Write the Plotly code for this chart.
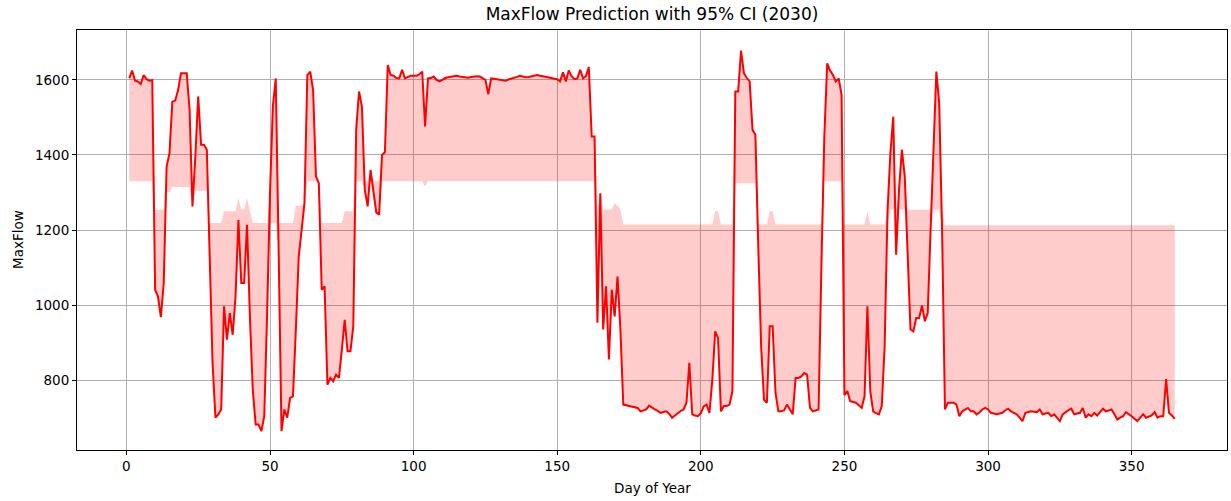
import numpy as np
import plotly.graph_objects as go

days = list(range(1, 366))

pred = [
    1605, 1625, 1598, 1596, 1589, 1613, 1602, 1598, 1600, 1041,   # 1-10
    1023, 968, 1059, 1369, 1405, 1542, 1545, 1573, 1618, 1618,    # 11-20
    1618, 1520, 1263, 1396, 1556, 1427, 1427, 1414, 1112, 846,    # 21-30
    700, 709, 722, 997, 908, 979, 921, 1023, 1227, 1059,          # 31-40
    1059, 1214, 970, 775, 682, 682, 664, 704, 979, 1300,          # 41-50
    1530, 1604, 1150, 664, 722, 700, 753, 757, 935, 1130,         # 51-60
    1200, 1272, 1613, 1622, 1573, 1343, 1325, 1041, 1050, 788,    # 61-70
    806, 797, 815, 806, 880, 961, 877, 877, 944, 1467,            # 71-80
    1569, 1529, 1307, 1263, 1360, 1298, 1247, 1241, 1400, 1407,   # 81-90
    1640, 1613, 1611, 1605, 1604, 1627, 1604, 1608, 1611, 1611,   # 91-100
    1611, 1615, 1622, 1476, 1604, 1605, 1609, 1600, 1596, 1600,   # 101-110
    1605, 1607, 1609, 1610, 1611, 1609, 1608, 1607, 1606, 1608,   # 111-120
    1609, 1610, 1609, 1605, 1600, 1562, 1604, 1603, 1602, 1600,   # 121-130
    1598, 1598, 1601, 1603, 1604, 1608, 1611, 1609, 1607, 1608,   # 131-140
    1610, 1612, 1613, 1611, 1610, 1609, 1607, 1605, 1603, 1602,   # 141-150
    1596, 1620, 1596, 1625, 1610, 1602, 1604, 1627, 1604, 1610,   # 151-160
    1634, 1449, 1449, 953, 1298, 935, 1050, 855, 1041, 970,       # 161-170
    1076, 935, 735, 733, 731, 728, 726, 726, 717, 720,            # 171-180
    722, 732, 726, 722, 718, 713, 715, 717, 710, 700,             # 181-190
    706, 713, 718, 722, 740, 846, 709, 706, 704, 712,             # 191-200
    730, 735, 713, 800, 930, 912, 717, 731, 731, 735,             # 201-210
    771, 1569, 1569, 1678, 1618, 1605, 1596, 1467, 1454, 1156,    # 211-220
    890, 748, 740, 944, 944, 766, 717, 717, 720, 735,             # 221-230
    720, 709, 806, 806, 810, 819, 815, 726, 717, 720,             # 231-240
    722, 1112, 1450, 1644, 1625, 1613, 1596, 1604, 1560, 760,     # 241-250
    771, 744, 742, 740, 733, 726, 757, 997, 771, 717,             # 251-260
    712, 709, 731, 890, 1250, 1405, 1502, 1134, 1307, 1414,       # 261-270
    1343, 1112, 935, 930, 966, 966, 999, 957, 979, 1200,          # 271-280
    1400, 1622, 1538, 1201, 722, 740, 740, 740, 735, 704,         # 281-290
    717, 722, 726, 717, 717, 709, 714, 722, 726, 722,             # 291-300
    713, 711, 709, 711, 713, 720, 724, 717, 713, 709,             # 301-310
    700, 691, 713, 715, 717, 716, 715, 722, 709, 711,             # 311-320
    713, 704, 709, 700, 691, 709, 715, 720, 724, 709,             # 321-330
    711, 713, 726, 700, 709, 704, 713, 706, 715, 724,             # 331-340
    717, 720, 722, 709, 695, 700, 704, 715, 710, 704,             # 341-350
    697, 691, 700, 709, 700, 703, 706, 715, 700, 704,             # 351-360
    704, 803, 713, 706, 697,                                      # 361-365
]

# The other edge of the 95% CI band (read from the shaded area)
ci_edge = (
    [1330] * 9 + [1254] * 4 + [1300] * 2 + [1315] * 7 + [1300] + [1305] * 5
    + [1219] * 5 + [1250] * 5 + [1285] + [1255] * 2 + [1285] + [1250]
    + [1219] * 6 + [1219] * 9 + [1265] * 4 + [1330] * 5 + [1219] * 8
    + [1250] * 4 + [1330] * 9 + [1330] * 15 + [1316] + [1330] * 59
    + [1255] * 6 + [1272] + [1265] + [1255] + [1215] * 32 + [1250] * 2
    + [1215] * 5 + [1325] * 8 + [1215] * 4 + [1250] * 2 + [1215] * 17
    + [1330] * 7 + [1215] * 8 + [1250] + [1215] * 7 + [1254] * 19
    + [1213] * 81
)

pred_arr = np.array(pred, dtype=float)
edge_arr = np.array(ci_edge, dtype=float)
ci_lower = np.minimum(pred_arr, edge_arr)
ci_upper = np.maximum(pred_arr, edge_arr)

FONT = "DejaVu Sans, Verdana, sans-serif"

fig = go.Figure()
fig.add_trace(go.Scatter(
    x=days, y=ci_lower, mode="lines", line=dict(width=0, color="rgba(255,0,0,0)"),
    showlegend=False, hoverinfo="skip"))
fig.add_trace(go.Scatter(
    x=days, y=ci_upper, mode="lines", line=dict(width=0, color="rgba(255,0,0,0)"),
    fill="tonexty", fillcolor="rgba(255,0,0,0.2)", showlegend=False,
    name="95% CI"))
fig.add_trace(go.Scatter(
    x=days, y=pred, mode="lines", line=dict(width=2, color="#ff0000"),
    showlegend=False, name="Prediction"))

fig.update_layout(
    width=1231, height=501,
    margin=dict(l=77, r=4, t=30, b=51),
    paper_bgcolor="white", plot_bgcolor="white",
    font=dict(family=FONT, size=13, color="black"),
    title=dict(text="MaxFlow Prediction with 95% CI (2030)", x=0.5, xref="paper",
               xanchor="center", y=1 - 14 / 501, yref="container", yanchor="middle",
               font=dict(size=17, family=FONT, color="black")),
    annotations=[
        dict(text="Day of Year", xref="paper", yref="paper", x=0.5, y=-38 / 420,
             xanchor="center", yanchor="middle", showarrow=False,
             font=dict(size=13.5, family=FONT, color="black")),
        dict(text="MaxFlow", xref="paper", yref="paper", x=-59 / 1150, y=0.5,
             xanchor="center", yanchor="middle", showarrow=False, textangle=-90,
             font=dict(size=13.5, family=FONT, color="black")),
    ],
)

fig.update_xaxes(
    range=[-17.2, 383.2], tickmode="array", tickvals=[0, 50, 100, 150, 200, 250, 300, 350],
    showgrid=True, gridcolor="#b0b0b0", gridwidth=1, zeroline=False,
    showline=True, linecolor="black", linewidth=1, mirror=True,
    ticks="outside", ticklen=4, tickcolor="black", tickfont=dict(size=13.5),
)
fig.update_yaxes(
    range=[614, 1733], tickmode="array", tickvals=[800, 1000, 1200, 1400, 1600],
    showgrid=True, gridcolor="#b0b0b0", gridwidth=1, zeroline=False,
    showline=True, linecolor="black", linewidth=1, mirror=True,
    ticks="outside", ticklen=4, tickcolor="black", tickfont=dict(size=13.5),
)

fig.write_html("out.html",
               config={"displayModeBar": False},
               post_script="document.body.style.margin='0';document.body.style.overflow='hidden';")
